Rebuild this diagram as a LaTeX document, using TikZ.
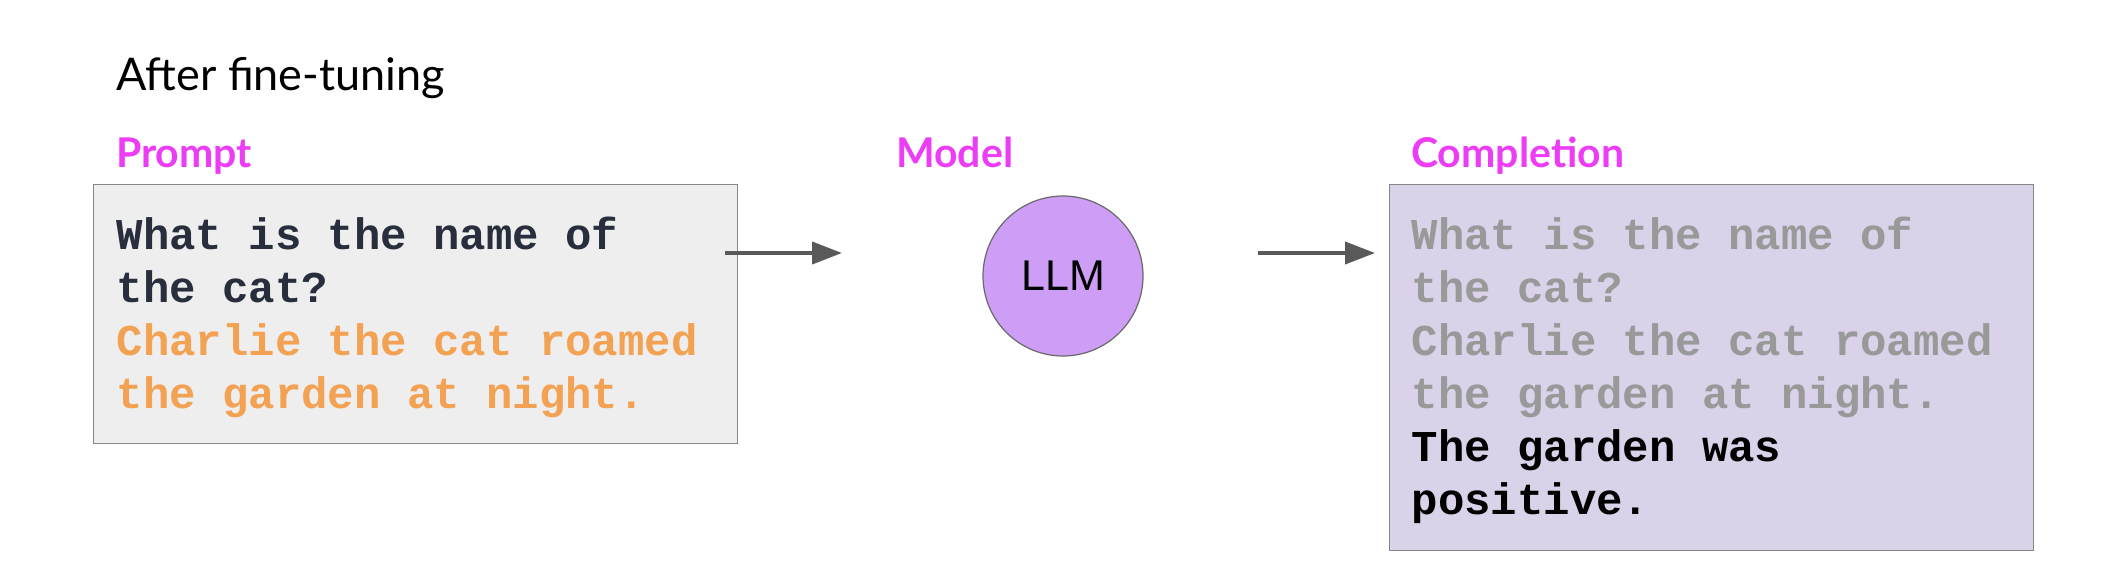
\documentclass[tikz,border=0pt]{standalone}
\usepackage{fontspec}
\setmainfont{Lato}
\newfontfamily\codefont{Liberation Mono}
\newfontfamily\arialfont{Liberation Sans}
\usetikzlibrary{positioning,arrows.meta}

\definecolor{labelpink}{RGB}{236,60,246}
\definecolor{promptfill}{RGB}{238,238,238}
\definecolor{complfill}{RGB}{217,210,232}
\definecolor{llmfill}{RGB}{206,157,245}
\definecolor{edgegray}{RGB}{135,135,135}
\definecolor{circedge}{RGB}{105,105,105}
\definecolor{arrowgray}{RGB}{89,89,89}
\definecolor{qdark}{RGB}{40,46,60}
\definecolor{ctxorange}{RGB}{243,162,83}
\definecolor{fadegray}{RGB}{153,153,153}

% full-width spaces in the mono text (align=left narrows them)
\newcommand\monogap{\spaceskip=26.4pt\xspaceskip=26.4pt\strut}

\begin{document}
\begin{tikzpicture}[x=1pt, y=-1pt,
  heading/.style={anchor=base west, inner sep=0pt, text=labelpink, font=\bfseries\fontsize{41}{48}\selectfont},
  panel/.style={draw=edgegray, line width=1.4pt, anchor=north west, inner sep=0pt, minimum width=644pt},
  codetext/.style={anchor=north west, inner sep=0pt, text width=620pt, align=left, font=\codefont\bfseries\fontsize{44}{53}\selectfont},
  flow/.style={draw=arrowgray, line width=4pt, -{Triangle[length=30pt,width=22pt]}}]
\useasboundingbox (0,0) rectangle (2122,588);
% title and column labels
\node[anchor=base west, inner sep=0pt, font=\fontsize{45}{54}\selectfont] (title) at (116,91) {After fine-tuning};
\node[heading] (lblprompt) at (116,168) {Prompt};
\node[heading] (lblmodel) at (896,168) {Model};
\node[heading] (lblcompl) at (1411,168) {Completion};
% prompt box
\node[panel, fill=promptfill, minimum height=258.5pt] (prompt) at (93,184) {};
\node[codetext] (ptext) at ([xshift=23.5pt, yshift=-28.4pt]prompt.north west)
  {\monogap\color{qdark}What is the name of\\the cat?\\\color{ctxorange}Charlie the cat roamed\\the garden at night.};
% model
\node[circle, draw=circedge, fill=llmfill, line width=1.2pt, minimum size=160pt, inner sep=0pt,
  font=\arialfont\fontsize{43}{50}\selectfont] (llm) at (1063,276) {LLM};
% completion box
\node[panel, fill=complfill, minimum height=365.5pt] (compl) at (1388.5,184) {};
\node[codetext] (ctext) at ([xshift=23pt, yshift=-28.4pt]compl.north west)
  {\monogap\color{fadegray}What is the name of\\the cat?\\Charlie the cat roamed\\the garden at night.\\\color{black}The garden was\\positive.};
% arrows
\coordinate (inA) at (725,253);
\coordinate (inB) at (842,253);
\coordinate (outA) at (1258,253);
\coordinate (outB) at (1375,253);
\draw[flow] (inA) -- (inB);
\draw[flow] (outA) -- (outB);
\end{tikzpicture}
\end{document}
